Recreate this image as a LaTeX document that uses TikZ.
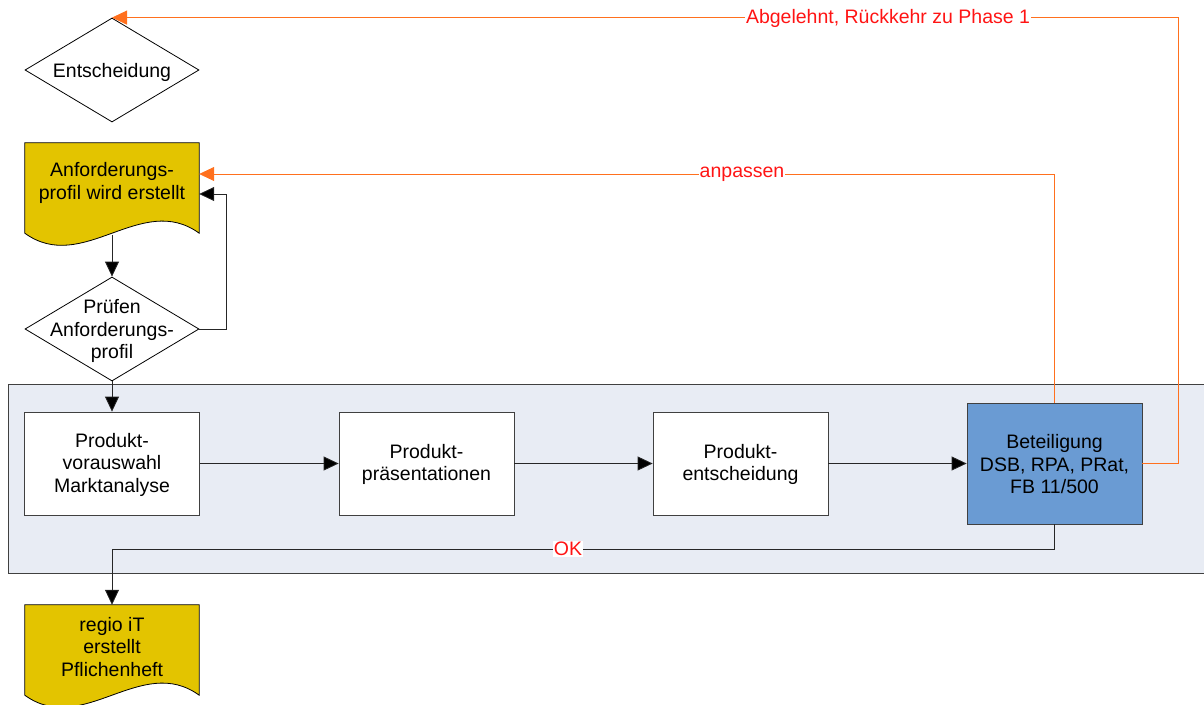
\documentclass[tikz,border=0pt]{standalone}
\usepackage{fontspec}
\setmainfont{Liberation Sans}
\usetikzlibrary{arrows.meta,shapes.geometric,calc}
\definecolor{docgold}{RGB}{227,196,0}
\definecolor{panelbg}{RGB}{232,236,244}
\definecolor{boxline}{RGB}{64,64,64}
\definecolor{reviewblue}{RGB}{106,155,211}
\definecolor{loopline}{RGB}{255,112,30}
\definecolor{looptext}{RGB}{255,20,20}
\tikzset{
  txt/.style={align=center, inner sep=0pt, font=\fontsize{19.5}{22.5}\selectfont},
  decision/.style={diamond, draw=black, line width=0.8pt, fill=white,
    minimum width=174pt, minimum height=104pt, inner sep=0pt},
  docnode/.style={rectangle, draw=none, minimum width=174pt, minimum height=90pt, inner sep=0pt},
  docshape/.style={draw=black, line width=0.8pt, fill=docgold},
  procbox/.style={rectangle, draw=boxline, line width=0.8pt, fill=white,
    minimum width=175pt, minimum height=103pt, inner sep=0pt},
  reviewbox/.style={rectangle, draw=boxline, line width=0.8pt, fill=reviewblue,
    minimum width=175pt, minimum height=121pt, inner sep=0pt},
  panel/.style={rectangle, draw=boxline, line width=0.8pt, fill=panelbg,
    minimum width=1204pt, minimum height=189pt, inner sep=0pt},
  flow/.style={draw=black!85, line width=0.8pt, -{Triangle[length=15pt,width=14pt,fill=black]}},
  loop/.style={draw=loopline, line width=0.8pt, -{Triangle[length=15pt,width=14pt,fill=loopline]}},
  looplabel/.style={fill=white, inner sep=1pt, text=looptext, font=\fontsize{19.5}{22}\selectfont},
}
\begin{document}
\begin{tikzpicture}[x=1pt,y=-1pt]
\useasboundingbox (0,0) rectangle (1204,704);

% phase panel in the background
\node[panel] (phase) at (610,478.5) {};

% decision at the top
\node[decision] (dec) at (112,70) {};
\node[txt] (declbl) at (112,72) {Entscheidung};

% requirement profile document
\node[docnode] (req) at (112,188) {};
\draw[docshape] (req.north west) -- (req.north east) -- (req.south east)
  .. controls ($(req.south east)+(-58,-42)$) and ($(req.south west)+(58,42)$) .. (req.south west) -- cycle;
\node[txt] (reqlbl) at (112,183) {Anforderungs-\\profil wird erstellt};

% check of the requirement profile
\node[decision] (chk) at (112,329) {};
\node[txt] (chklbl) at (112,331) {Prüfen\\Anforderungs-\\profil};

% process steps
\node[procbox] (pre) at (112,463.5) {};
\node[txt] (prelbl) at (112,464.5) {Produkt-\\vorauswahl\\Marktanalyse};
\node[procbox] (pres) at (426.5,463.5) {};
\node[txt] (preslbl) at (426.5,464.5) {Produkt-\\präsentationen};
\node[procbox] (sel) at (740.5,463.5) {};
\node[txt] (sellbl) at (740.5,464.5) {Produkt-\\entscheidung};
\node[reviewbox] (rev) at (1054.5,463.5) {};
\node[txt] (revlbl) at (1054.5,464.5) {Beteiligung\\DSB, RPA, PRat,\\FB 11/500};

% specification document
\node[docnode] (spec) at (112,650) {};
\draw[docshape] (spec.north west) -- (spec.north east) -- (spec.south east)
  .. controls ($(spec.south east)+(-58,-42)$) and ($(spec.south west)+(58,42)$) .. (spec.south west) -- cycle;
\node[txt] (speclbl) at (112,647) {regio iT\\erstellt\\Pflichenheft};

% main flow
\draw[flow] ($(req.south)+(0,2)$) -- (chk.north);
\draw[flow] (chk.east) -- ++(27,0) |- ($(req.east)+(0,6)$);
\draw[flow] (chk.south) -- (pre.north);
\draw[flow] (pre.east) -- (pres.west);
\draw[flow] (pres.east) -- (sel.west);
\draw[flow] (sel.east) -- (rev.west);
\draw[flow] (rev.south) |- ($(phase.south)+(0,-24)$) -| (spec.north);
\node[looplabel] (oklbl) at (568,549) {OK};

% feedback loops
\draw[loop] (rev.north) |- ($(req.east)+(0,-14)$);
\node[looplabel] (adjlbl) at (742,174) {anpassen};
\draw[loop] (rev.east) -- ++(36,0) |- (dec.north);
\node[looplabel] (rejlbl) at (888,18) {Abgelehnt, Rückkehr zu Phase 1};
\end{tikzpicture}
\end{document}
